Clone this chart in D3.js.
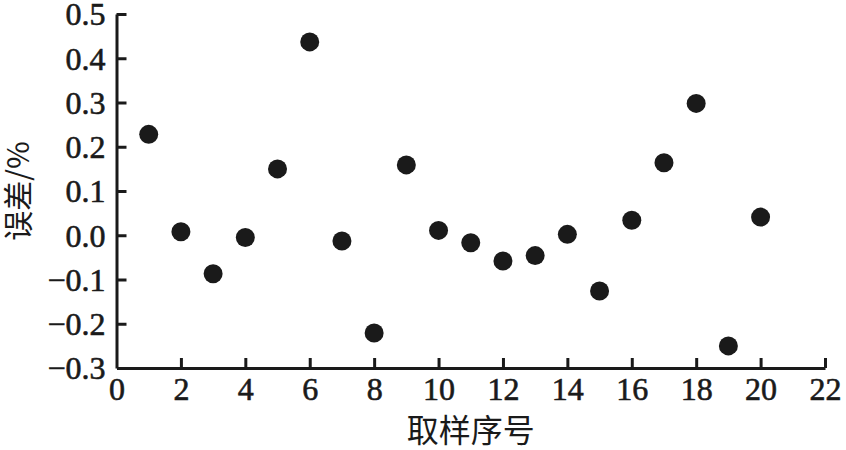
<!DOCTYPE html>
<html><head><meta charset="utf-8">
<script src="https://cdn.jsdelivr.net/npm/d3@7"></script>
<style>
html,body{margin:0;padding:0;background:#fff;}
svg{display:block;}
</style></head>
<body>
<svg id="c" width="846" height="450"></svg>
<script>
const samples = [1,2,3,4,5,6,7,8,9,10,11,12,13,14,15,16,17,18,19,20];
const errors = [0.228,0.008,-0.087,-0.005,0.150,0.437,-0.013,-0.221,0.159,0.011,-0.017,-0.058,-0.046,0.002,-0.126,0.034,0.164,0.298,-0.250,0.041];
const xTicks = [0,2,4,6,8,10,12,14,16,18,20,22];
const yTicks = [-0.3,-0.2,-0.1,0.0,0.1,0.2,0.3,0.4,0.5];
const xTitle = "取样序号";
const yTitle = "误差/%";

const svg = d3.select("#c");
const x = d3.scaleLinear().domain([0,22]).range([116.5,825]);
const y = d3.scaleLinear().domain([-0.3,0.5]).range([368,14]);
const fmt = d3.format(".1f");
const tickFont = "'Liberation Serif','Times New Roman',serif";

const gx = svg.append("g").attr("transform",`translate(0,${y(-0.3)})`)
  .call(d3.axisBottom(x).tickValues(xTicks).tickSizeInner(-10).tickSizeOuter(0).tickPadding(10).tickFormat(d3.format("d")));
const gy = svg.append("g").attr("transform",`translate(${x(0)},0)`)
  .call(d3.axisLeft(y).tickValues(yTicks).tickSizeInner(-10).tickSizeOuter(0).tickPadding(11).tickFormat(fmt));

[gx,gy].forEach(g=>{
  g.select(".domain").attr("stroke","#1a1a1a").attr("stroke-width",3);
  g.selectAll(".tick line").attr("stroke","#1a1a1a").attr("stroke-width",3);
  g.selectAll(".tick text").attr("fill","#1a1a1a").attr("stroke","#1a1a1a").attr("stroke-width",0.6)
    .style("font-family",tickFont).style("font-size","32px");
});
gy.selectAll(".tick").filter(d=>d===-0.3).select("line").remove();
gx.selectAll(".tick").filter(d=>d===0).select("line").remove();
gx.selectAll(".tick text").attr("dy","0.7em");
gy.selectAll(".tick text").attr("dy","0.34em");

svg.append("g").selectAll("circle").data(samples).join("circle")
  .attr("cx",(d)=>x(d)).attr("cy",(d,i)=>y(errors[i])).attr("r",9.5).attr("fill","#1a1a1a");

svg.append("text").attr("x",(x(0)+x(22))/2).attr("y",442).attr("text-anchor","middle")
  .style("font-family","'Noto Sans CJK SC',sans-serif").style("font-size","32px").attr("fill","#1a1a1a").text(xTitle);
svg.append("text").attr("transform",`translate(29,${(y(0.5)+y(-0.3))/2}) rotate(-90)`).attr("text-anchor","middle")
  .style("font-family","'Noto Sans CJK SC',sans-serif").style("font-size","30px").attr("fill","#1a1a1a").text(yTitle);
</script>
</body></html>
